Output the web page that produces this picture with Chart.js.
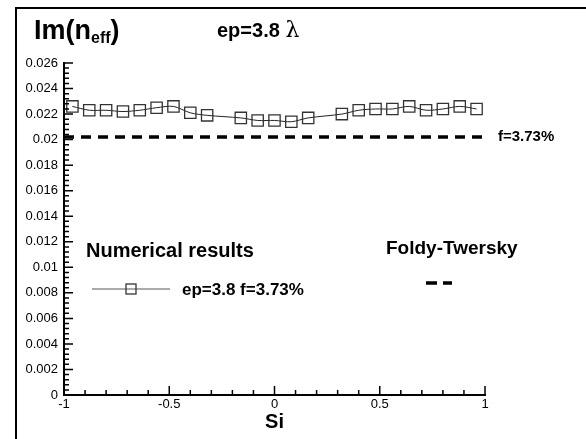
<!DOCTYPE html>
<html>
<head>
<meta charset="utf-8">
<script src="https://cdn.jsdelivr.net/npm/chart.js@4.4.1/dist/chart.umd.min.js"></script>
<style>
  html, body { margin: 0; padding: 0; background: #fff; }
  #wrap { width: 586px; height: 439px; position: relative; }
</style>
</head>
<body>
<div id="wrap"><canvas id="chart" width="586" height="439"></canvas></div>
<script>
// Numerical results, ep=3.8 f=3.73%
const siValues = [-0.96, -0.88, -0.80, -0.72, -0.64, -0.56, -0.48, -0.40, -0.32,
                  -0.16, -0.08, 0.00, 0.08, 0.16,
                  0.32, 0.40, 0.48, 0.56, 0.64, 0.72, 0.80, 0.88, 0.96];
const imValues = [0.0226, 0.0223, 0.0223, 0.0222, 0.0223, 0.0225, 0.0226, 0.0221, 0.0219,
                  0.0217, 0.0215, 0.0215, 0.0214, 0.0217,
                  0.0220, 0.0223, 0.0224, 0.0224, 0.0226, 0.0223, 0.0224, 0.0226, 0.0224];

// Foldy-Twersky, f=3.73%
const ftSi = [-1, 1];
const ftIm = [0.0202, 0.0202];

// axis ticks
const xTicks = [-1, -0.5, 0, 0.5, 1];
const yTicks = [0, 0.002, 0.004, 0.006, 0.008, 0.01, 0.012, 0.014, 0.016, 0.018, 0.02, 0.022, 0.024, 0.026];
const xMinorStep = 0.1;
const yMinorStep = 0.0004;

const FONT = "'Liberation Sans', Arial, sans-serif";

const toPoints = (xs, ys) => xs.map((x, i) => ({ x: x, y: ys[i] }));

// ticks pointing into the plot, frame and text labels
const decorations = {
    id: 'decorations',
    afterDraw(chart) {
        const ctx = chart.ctx;
        const xs = chart.scales.x, ys = chart.scales.y;
        const area = chart.chartArea;
        ctx.save();

        // outer frame (left and top)
        ctx.strokeStyle = '#000';
        ctx.lineWidth = 2;
        ctx.beginPath();
        ctx.moveTo(16, 439);
        ctx.lineTo(16, 8);
        ctx.lineTo(586, 8);
        ctx.stroke();

        // tick marks
        ctx.lineWidth = 1.5;
        ctx.beginPath();
        for (let v = xs.min; v <= xs.max + 1e-9; v += xMinorStep) {
            const px = xs.getPixelForValue(v);
            const major = Math.abs(v * 2 - Math.round(v * 2)) < 1e-6;
            ctx.moveTo(px, area.bottom);
            ctx.lineTo(px, area.bottom - (major ? 9 : 5));
        }
        for (let v = ys.min; v <= ys.max + 1e-9; v += yMinorStep) {
            const py = ys.getPixelForValue(v);
            const major = Math.abs(v / 0.002 - Math.round(v / 0.002)) < 1e-6;
            ctx.moveTo(area.left, py);
            ctx.lineTo(area.left + (major ? 9 : 5), py);
        }
        ctx.stroke();

        ctx.fillStyle = '#000';
        ctx.textBaseline = 'alphabetic';
        ctx.textAlign = 'left';

        // title Im(n_eff)
        let x = 34;
        ctx.font = 'bold 27px ' + FONT;
        ctx.fillText('Im(n', x, 39);
        x += ctx.measureText('Im(n').width;
        ctx.font = 'bold 16px ' + FONT;
        ctx.fillText('eff', x, 43);
        x += ctx.measureText('eff').width;
        ctx.font = 'bold 27px ' + FONT;
        ctx.fillText(')', x, 39);

        // ep=3.8 lambda
        ctx.font = 'bold 20px ' + FONT;
        ctx.fillText('ep=3.8', 217, 37);
        const w = ctx.measureText('ep=3.8 ').width;
        ctx.font = '22px "DejaVu Serif", serif';
        ctx.fillText('\u03bb', 217 + w, 37);

        // label beside the Foldy-Twersky line
        ctx.font = 'bold 15px ' + FONT;
        ctx.textBaseline = 'middle';
        ctx.fillText('f=3.73%', xs.getPixelForValue(ftSi[1]) + 13, ys.getPixelForValue(ftIm[1]));

        // legend: numerical results
        ctx.font = 'bold 20px ' + FONT;
        ctx.fillText('Numerical results', 86, 251);
        ctx.strokeStyle = '#555';
        ctx.lineWidth = 1;
        ctx.beginPath();
        ctx.moveTo(92, 289);
        ctx.lineTo(170, 289);
        ctx.stroke();
        ctx.strokeStyle = '#333';
        ctx.lineWidth = 1.3;
        ctx.strokeRect(126, 284, 10, 10);
        ctx.font = 'bold 17px ' + FONT;
        ctx.fillText('ep=3.8 f=3.73%', 182, 290);

        // legend: Foldy-Twersky
        ctx.font = 'bold 19px ' + FONT;
        ctx.fillText('Foldy-Twersky', 386, 249);
        ctx.strokeStyle = '#000';
        ctx.lineWidth = 3.5;
        ctx.beginPath();
        ctx.moveTo(426, 283);
        ctx.lineTo(437, 283);
        ctx.moveTo(443, 283);
        ctx.lineTo(452, 283);
        ctx.stroke();

        ctx.restore();
    }
};

new Chart(document.getElementById('chart'), {
    type: 'scatter',
    data: {
        datasets: [
            {
                label: 'ep=3.8 f=3.73%',
                data: toPoints(siValues, imValues),
                showLine: true,
                borderColor: '#222',
                borderWidth: 1,
                tension: 0.3,
                pointStyle: 'rect',
                pointRadius: 8,
                pointBorderWidth: 1.3,
                pointBorderColor: '#333',
                pointBackgroundColor: 'rgba(0,0,0,0)'
            },
            {
                label: 'Foldy-Twersky',
                data: toPoints(ftSi, ftIm),
                showLine: true,
                borderColor: '#000',
                borderWidth: 3.5,
                borderDash: [10, 7],
                pointRadius: 0
            }
        ]
    },
    options: {
        responsive: false,
        animation: false,
        layout: { padding: { left: 0, top: 63, right: 101, bottom: 0 } },
        plugins: { legend: { display: false }, tooltip: { enabled: false } },
        scales: {
            x: {
                type: 'linear',
                min: -1, max: 1,
                afterBuildTicks: s => { s.ticks = xTicks.map(v => ({ value: v })); },
                afterFit: s => { s.height = 44; },
                grid: { display: false, drawTicks: false },
                border: { display: true, color: '#000', width: 2 },
                ticks: { color: '#000', padding: 2, font: { family: FONT, size: 13 }, maxRotation: 0,
                         callback: v => String(v) },
                title: { display: true, text: 'Si', color: '#000', padding: { top: 0, bottom: 5 },
                         font: { family: FONT, size: 20, weight: 'bold' } }
            },
            y: {
                type: 'linear',
                min: 0, max: 0.026,
                afterBuildTicks: s => { s.ticks = yTicks.map(v => ({ value: v })); },
                afterFit: s => { s.width = 64; },
                grid: { display: false, drawTicks: false },
                border: { display: true, color: '#000', width: 2 },
                ticks: { color: '#000', padding: 6, font: { family: FONT, size: 13 },
                         callback: v => String(parseFloat(v.toFixed(3))) }
            }
        }
    },
    plugins: [decorations]
});
</script>
</body>
</html>
